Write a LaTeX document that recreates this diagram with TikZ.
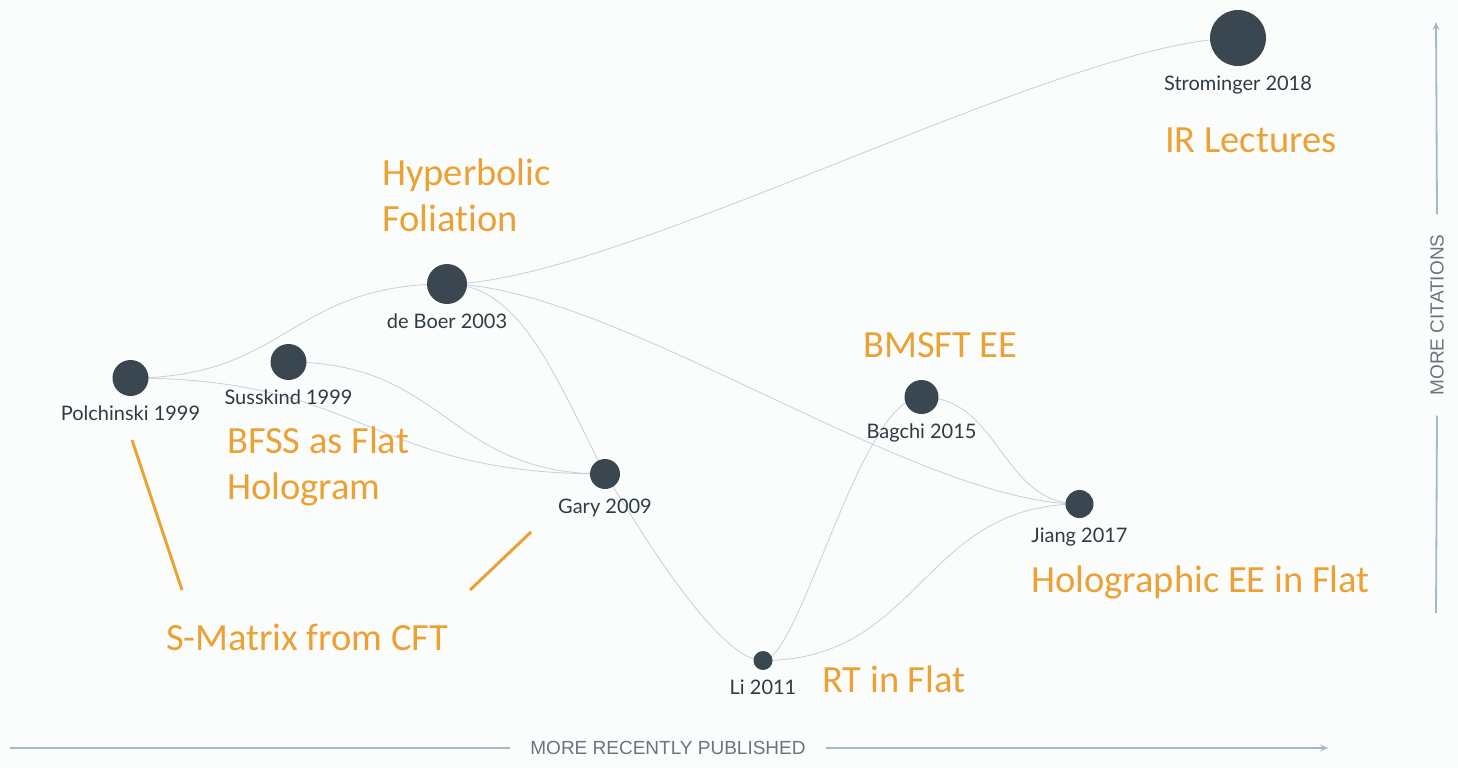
\documentclass[tikz,border=0pt]{standalone}
\usepackage{fontspec}
\usepackage{tikz}
\usetikzlibrary{arrows.meta, positioning, backgrounds}

\newfontfamily\citefont{Lato}
\newfontfamily\notefont[Ligatures=NoCommon]{Carlito}
\newfontfamily\axisfont{Liberation Sans}

\definecolor{paperbg}{HTML}{FBFDFC}
\definecolor{nodegrey}{HTML}{3B4750}
\definecolor{labelgrey}{HTML}{2F3B43}
\definecolor{notes}{HTML}{ECA135}
\definecolor{linkgrey}{HTML}{C6D3DA}
\definecolor{axisblue}{HTML}{A7B8C5}
\definecolor{axistext}{HTML}{69757E}

\begin{document}
\begin{tikzpicture}[
    x=1pt, y=-1pt,
    pub/.style={circle, fill=nodegrey, inner sep=0pt},
    cite/.style={font=\citefont\fontsize{20}{24}\selectfont, text=labelgrey, inner sep=0pt, text height=14pt, text depth=4pt},
    note/.style={font=\notefont\fontsize{38.5}{46}\selectfont, text=notes, inner sep=0pt, align=left, anchor=base west},
    link/.style={linkgrey, line width=0.85pt},
    pointer/.style={notes, line width=3pt},
    axisline/.style={axisblue, line width=1.8pt},
    axislabel/.style={font=\axisfont\fontsize{19}{22}\selectfont, text=axistext, inner sep=20pt}
]
    \useasboundingbox (0,0) rectangle (1458,768);

    % papers, circle size ~ citations
    \node[pub, minimum size=36pt] (pol) at (130.5,378) {};
    \node[pub, minimum size=36pt] (sus) at (288.5,362) {};
    \node[pub, minimum size=40pt] (deb) at (447,284) {};
    \node[pub, minimum size=30pt] (gar) at (605,474) {};
    \node[pub, minimum size=19pt] (li)  at (763,660.5) {};
    \node[pub, minimum size=34pt] (bag) at (921.5,397) {};
    \node[pub, minimum size=28pt] (jia) at (1079.5,504) {};
    \node[pub, minimum size=56pt] (str) at (1238,38) {};

    \node[cite, below=10pt of pol] (polt) {Polchinski 1999};
    \node[cite, below=10pt of sus] (sust) {Susskind 1999};
    \node[cite, below=10pt of deb] (debt) {de Boer 2003};
    \node[cite, below=10pt of gar] (gart) {Gary 2009};
    \node[cite, below=10pt of li]  (lit)  {Li 2011};
    \node[cite, below=10pt of bag] (bagt) {Bagchi 2015};
    \node[cite, below=10pt of jia] (jiat) {Jiang 2017};
    \node[cite, below=10pt of str] (strt) {Strominger 2018};

    % notes (base = last line)
    \node[note] (hyp)  at (382,231)  {Hyperbolic\\Foliation};
    \node[note] (bfss) at (227,499)  {BFSS as Flat\\Hologram};
    \node[note] (smat) at (166,650)  {S-Matrix from CFT};
    \node[note] (bms)  at (863,357)  {BMSFT EE};
    \node[note] (rt)   at (822,692)  {RT in Flat};
    \node[note] (heef) at (1031,592) {Holographic EE in Flat};
    \node[note] (irl)  at (1165,152) {IR Lectures};

    \coordinate (p1a) at (132,440);
    \coordinate (p1b) at (182,590);
    \coordinate (p2a) at (531,532);
    \coordinate (p2b) at (470,590);
    \draw[pointer] (p1a) -- (p1b);
    \draw[pointer] (p2a) -- (p2b);

    % axes
    \node[axislabel] (xlab) at (668,748) {MORE RECENTLY PUBLISHED};
    \coordinate (x0) at (10,748);
    \coordinate (x1) at (1328,748);
    \draw[axisline] (x0) -- (xlab.west);
    \draw[axisline, -{Stealth[length=8pt, width=7pt, inset=3pt]}] (xlab.east) -- (x1);

    \node[axislabel, rotate=90] (ylab) at (1437,315) {MORE CITATIONS};
    \coordinate (y0) at (1436,613);
    \coordinate (y1) at (1436,22);
    \draw[axisline] (y0) -- (ylab.west);
    \draw[axisline, -{Stealth[length=8pt, width=7pt, inset=3pt]}] (ylab.east) -- (y1);

    % citation links behind the circles
    \begin{scope}[on background layer]
        \fill[paperbg] (0,0) rectangle (1458,768);
        \draw[link] (pol.center) .. controls +(158,0) and +(-158,0) .. (deb.center);
        \draw[link] (pol.center) .. controls +(237,0) and +(-237,0) .. (gar.center);
        \draw[link] (sus.center) .. controls +(158,0) and +(-158,0) .. (gar.center);
        \draw[link] (deb.center) .. controls +(73,0) and +(-51,-100) .. (gar.center);
        \draw[link] (deb.center) .. controls +(170,0) and +(-170,0) .. (str.center);
        \draw[link] (deb.center) .. controls +(164,0) and +(-164,0) .. (jia.center);
        \draw[link] (gar.center) .. controls +(25,38) and +(-48,0) .. (li.center);
        \draw[link] (li.center) .. controls +(37,0) and +(-61,0) .. (bag.center);
        \draw[link] (li.center) .. controls +(158,0) and +(-158,0) .. (jia.center);
        \draw[link] (bag.center) .. controls +(79,0) and +(-79,0) .. (jia.center);
    \end{scope}
\end{tikzpicture}
\end{document}
